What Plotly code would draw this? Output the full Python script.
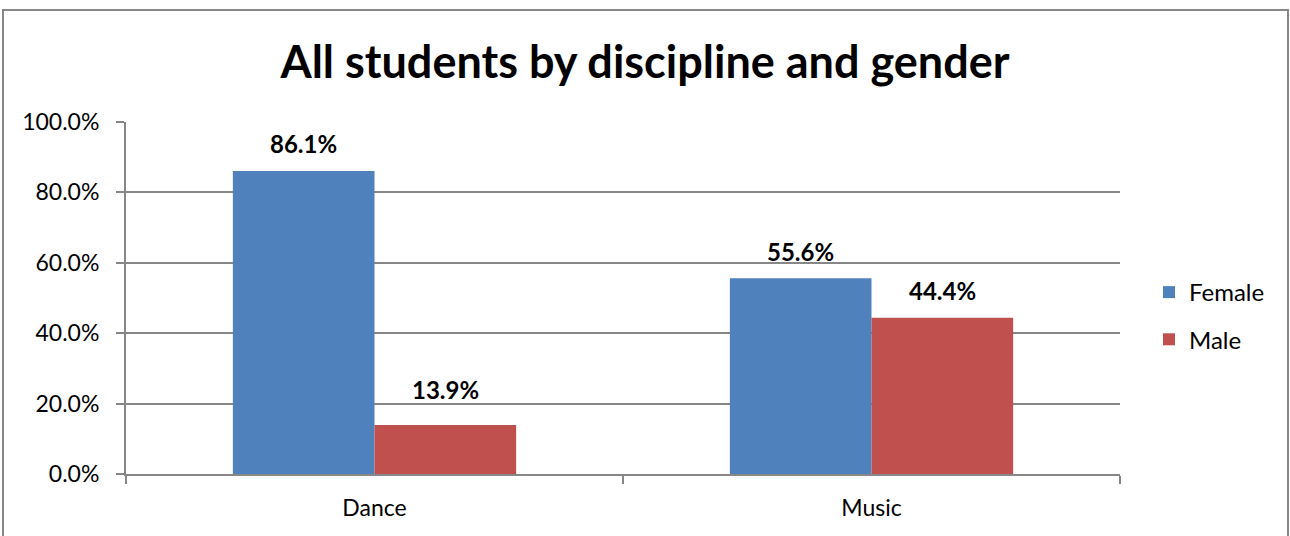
import plotly.graph_objects as go

categories = ["Dance", "Music"]
female = [86.1, 55.6]
male = [13.9, 44.4]
series_names = ["Female", "Male"]
colors = ["#4F81BD", "#C0504D"]
y_ticks = [0, 20, 40, 60, 80, 100]

W, H = 1290, 536
L, R, T, B = 126, 170, 122, 62
FONT = "Lato"
GRID = "#878787"

fig = go.Figure()
for name, vals, col in zip(series_names, [female, male], colors):
    fig.add_trace(go.Bar(
        x=categories, y=vals, name=name, marker_color=col,
        marker_line_width=0, legendgroup=name,
    ))

# data labels
shifts = {("Female", 0): 27, ("Female", 1): 27, ("Male", 0): 36, ("Male", 1): 27}
for si, (name, vals) in enumerate(zip(series_names, [female, male])):
    for ci, v in enumerate(vals):
        fig.add_annotation(
            x=categories[ci], y=v, xref="x", yref="y",
            text=f"<b>{v:.1f}%</b>", showarrow=False,
            xshift=-71 if si == 0 else 71, yshift=shifts[(name, ci)],
            font=dict(family=FONT, size=24, color="black"),
        )

pw = W - L - R
ph = H - T - B
fig.add_shape(
    type="rect", xref="paper", yref="paper",
    x0=(3 - L) / pw, x1=(1288 - L) / pw,
    y0=(H - B - 560) / ph, y1=(H - B - 10) / ph,
    line=dict(color=GRID, width=2), fillcolor="rgba(0,0,0,0)", layer="below",
)

fig.update_layout(
    width=W, height=H,
    margin=dict(l=L, r=R, t=T, b=B),
    paper_bgcolor="white", plot_bgcolor="white",
    barmode="group", bargap=0.43, bargroupgap=0,
    font=dict(family=FONT, color="black"),
    title=dict(
        text="<b>All students by discipline and gender</b>",
        x=0.5, xref="container", xanchor="center",
        y=1 - 62 / H, yref="container", yanchor="middle",
        font=dict(family=FONT, size=45, color="black"),
    ),
    legend=dict(
        x=(1149 - L) / pw, xanchor="left", y=(474 - 316) / ph, yanchor="middle",
        font=dict(family=FONT, size=24, color="black"),
        tracegroupgap=13, itemwidth=30,
        bgcolor="rgba(0,0,0,0)",
    ),
    xaxis=dict(
        showline=True, linecolor=GRID, linewidth=2,
        ticks="outside", ticklen=8, tickcolor=GRID, tickwidth=2,
        tickson="boundaries", showgrid=False,
        tickfont=dict(family=FONT, size=23, color="black"),
        ticklabelstandoff=12,
    ),
    yaxis=dict(
        range=[0, 100], tickvals=y_ticks,
        ticktext=[f"{t:.1f}%" for t in y_ticks],
        showline=True, linecolor=GRID, linewidth=2,
        ticks="outside", ticklen=8, tickcolor=GRID, tickwidth=2,
        showgrid=True, gridcolor=GRID, gridwidth=1.5,
        zeroline=False,
        tickfont=dict(family=FONT, size=23, color="black"),
        ticklabelstandoff=12,
    ),
)

fig.write_html("out.html")
